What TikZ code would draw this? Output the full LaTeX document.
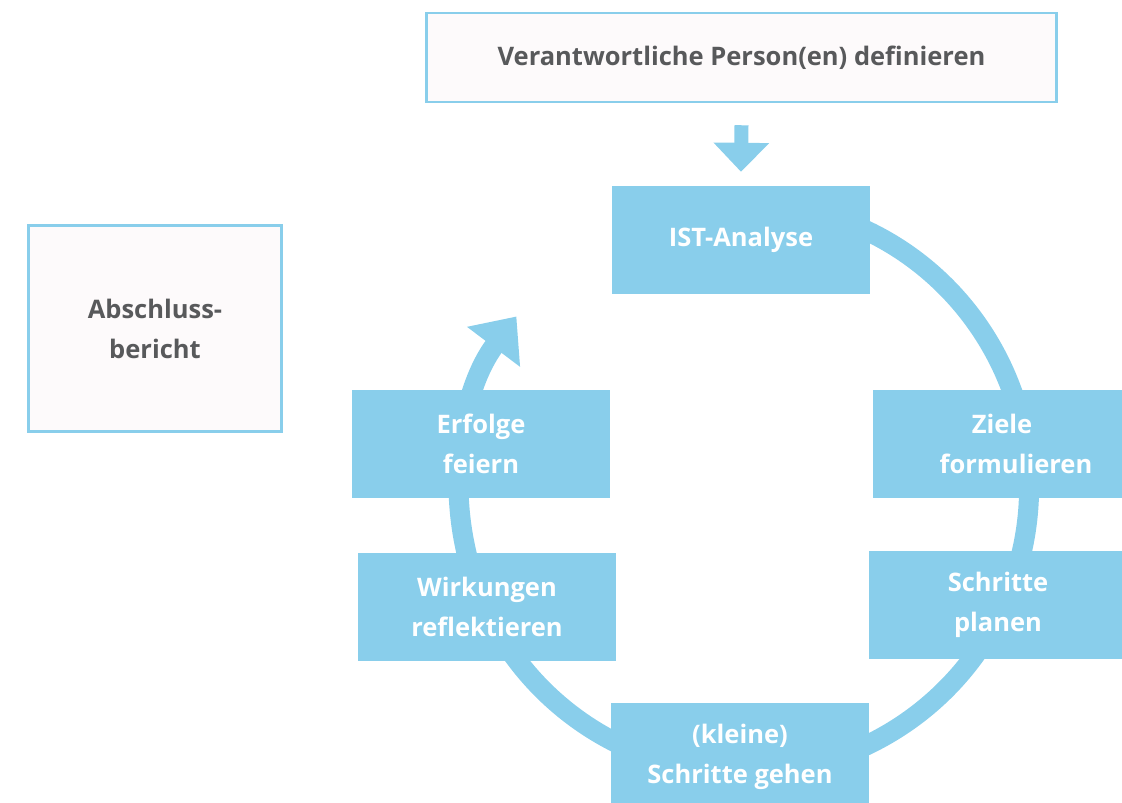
\documentclass[tikz,border=0pt]{standalone}
\usepackage{fontspec}
\setmainfont{Open Sans}
\usetikzlibrary{arrows.meta}
\definecolor{skyb}{RGB}{137,206,235}
\definecolor{pinkf}{RGB}{253,250,251}
\definecolor{greyt}{RGB}{88,89,91}
\tikzset{
  bluebox/.style={fill=skyb, draw=none, minimum width=258pt, minimum height=108pt, inner sep=0pt,
    text=white, align=center, font=\fontsize{25.5}{40}\selectfont\bfseries},
  outbox/.style={fill=pinkf, draw=skyb, line width=2.5pt, inner sep=0pt,
    text=greyt, align=center, font=\fontsize{25.5}{40}\selectfont\bfseries},
  ring/.style={draw=skyb, line width=20pt, -{Triangle[width=64pt,length=38pt]}},
  downarrow/.style={draw=skyb, line width=14pt, -{Triangle[width=54pt,length=29pt]}}
}
\begin{document}
\begin{tikzpicture}[x=1pt,y=-1pt]
\useasboundingbox (0,0) rectangle (1122,803);
\coordinate (c) at (744,488);
% ring
\draw[ring] ([shift={(75:285pt)}]c) arc[start angle=75, end angle=-217, radius=285pt];
% nodes
\node[outbox, minimum width=630pt, minimum height=89pt] (resp) at (741.5,57.5) {Verantwortliche Person(en) definieren};
\node[outbox, minimum width=253pt, minimum height=206pt] (abs) at (155,328.5) {Abschluss-\\bericht};
\node[bluebox] (ist) at (741,240) {IST-Analyse};
\node[bluebox] (ziele) at (1002,444) {Ziele\\\hspace*{28pt}formulieren};
\node[bluebox] (plan) at (998,605) {Schritte\\planen};
\node[bluebox] (gehen) at (740,757) {(kleine)\\Schritte gehen};
\node[bluebox] (wirk) at (487,607) {Wirkungen\\reflektieren};
\node[bluebox] (erf) at (481,443.5) {Erfolge\\feiern};
% down arrow
\draw[downarrow] ([yshift=-22pt]resp.south) -- ([yshift=14pt]ist.north);
\end{tikzpicture}
\end{document}
